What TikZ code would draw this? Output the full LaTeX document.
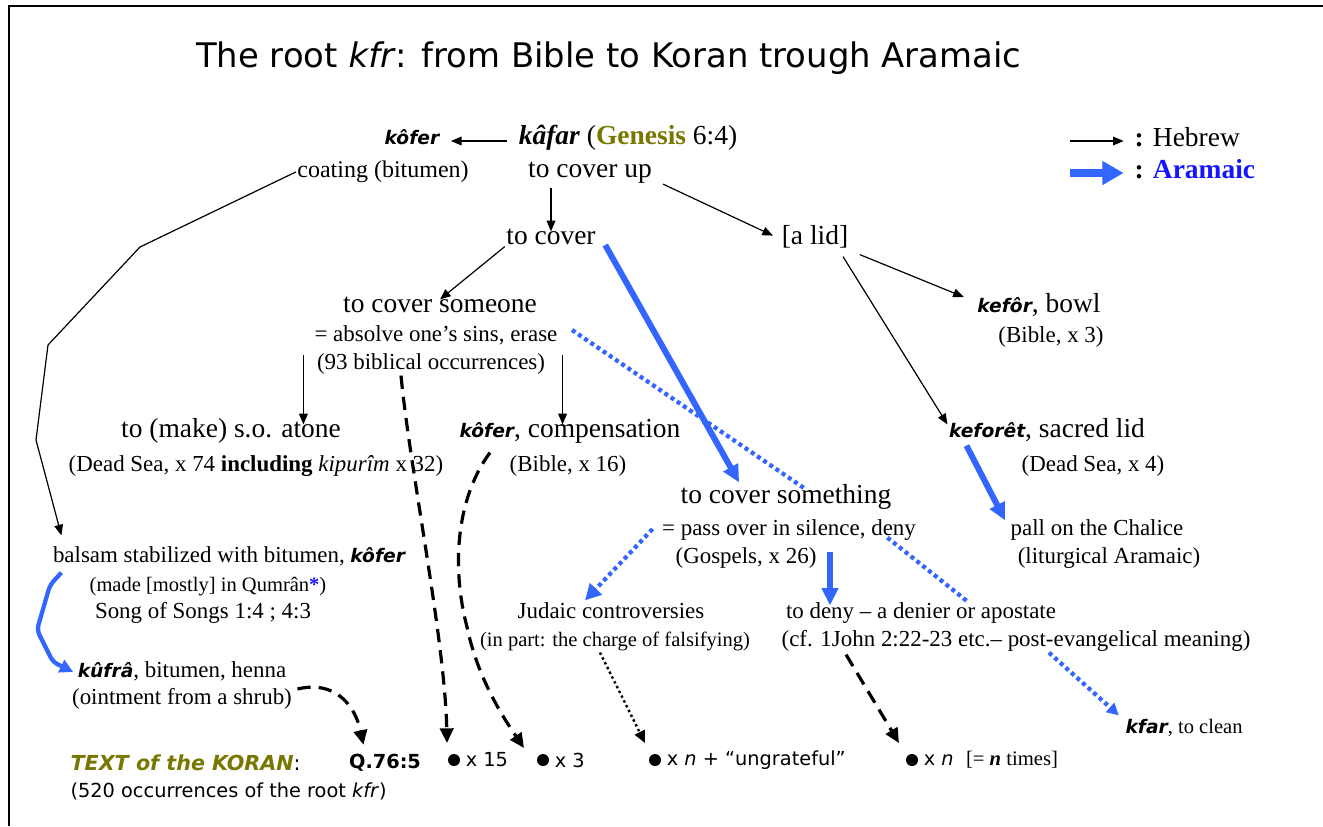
\documentclass[tikz,border=0pt]{standalone}
\usepackage{fontspec}
\setmainfont{Liberation Serif}
\newfontfamily\verd{DejaVu Sans}[ItalicFont={DejaVu Sans Oblique},BoldFont={DejaVu Sans Bold},BoldItalicFont={DejaVu Sans Bold Oblique}]
\usetikzlibrary{arrows.meta,positioning,calc}

\definecolor{aramblue}{RGB}{51,102,255}
\definecolor{txtblue}{RGB}{20,20,255}
\definecolor{genolive}{RGB}{120,120,0}

\newcommand\bigsz{\fontsize{20.6pt}{24pt}\selectfont}
\newcommand\midsz{\fontsize{17.2pt}{20pt}\selectfont}
\newcommand\smsz{\fontsize{15.4pt}{18pt}\selectfont}
\newcommand\vsz{\fontsize{14.5pt}{17pt}\selectfont}
\newcommand\kw[1]{{\verd\bfseries\itshape\fontsize{14pt}{17pt}\selectfont #1}}

\tikzset{
  lbl/.style={inner sep=1pt, text height=0.84em, text depth=0.06em, font=\bigsz},
  sublbl/.style={lbl, font=\midsz},
  notelbl/.style={lbl, font=\smsz},
  botlbl/.style={inner sep=1pt, font=\verd\vsz},
  heb/.style={-{Triangle[length=8pt,width=6.5pt]}, line width=0.9pt},
  aram/.style={-{Triangle[length=13pt,width=12pt]}, line width=4.5pt, aramblue},
  aramdot/.style={line width=3.2pt, aramblue, dash pattern=on 3pt off 2.6pt},
  quran/.style={-{Triangle[length=11pt,width=10pt]}, line width=2.4pt, dash pattern=on 10pt off 6pt},
  qdot/.style={-{Triangle[length=9pt,width=8pt]}, line width=1.8pt, dash pattern=on 1.8pt off 2.2pt},
  kdot/.style={circle, fill, inner sep=0pt, minimum size=9pt},
}

\begin{document}
\begin{tikzpicture}[x=0.75pt,y=0.75pt,yscale=-1,xscale=1]
\useasboundingbox (0,0) rectangle (1323,826);
% frame
\draw[line width=2.2pt] (9,826) -- (9,6) -- (1323,6);

% Title
\node[anchor=west, inner sep=0pt, font=\verd\fontsize{25.4pt}{30pt}\selectfont] (title) at (196,58) {The root \textit{kfr}: from Bible to Koran trough Aramaic};

% Legend
\node[lbl, anchor=west] (lgheb) at (1133,141) {\textbf{:} Hebrew};
\node[lbl, anchor=west] (lgaram) at (1133,173) {\textbf{: \textcolor{txtblue}{Aramaic}}};
\coordinate (lhs) at (1070,141);
\coordinate (las) at (1070,173);
\draw[heb, shorten >=7pt] (lhs) -- (lgheb.west);
\draw[aram, line width=6pt, -{Triangle[length=16pt,width=17pt]}, shorten >=7pt] (las) -- (lgaram.west);

% Text Nodes
\node[lbl] (kafar) at (628,139) {\textbf{\textit{kâfar}} (\textcolor{genolive}{\textbf{Genesis}} 6:4)};
\node[lbl] (kofer1) at (412,139) {\kw{kôfer}};
\node[lbl] (coverup) at (590,172) {to cover up};
\node[lbl, font=\fontsize{18pt}{21pt}\selectfont] (coating) at (383,172) {coating (bitumen)};
\node[lbl] (cover) at (551,239) {to cover};
\node[lbl] (lid) at (815,239) {[a lid]};
\node[lbl] (someone) at (440,307) {to cover someone};
\node[sublbl] (absolve) at (436,336) {= absolve one’s sins, erase};
\node[sublbl] (occ93) at (431,364) {(93 biblical occurrences)};
\node[lbl] (atone) at (231,432) {to (make) s.o. atone};
\node[sublbl] (ds74) at (256,466) {(Dead Sea, x 74 \textbf{including} \textit{kipurîm} x 32)};
\node[lbl] (kofer2) at (570,432) {\kw{kôfer}, compensation};
\node[sublbl] (bible16) at (568,466) {(Bible, x 16)};
\node[lbl] (kefor) at (1039,307) {\kw{kefôr}, bowl};
\node[sublbl] (bible3) at (1051,337) {(Bible, x 3)};
\node[lbl] (keforet) at (1047,432) {\kw{keforêt}, sacred lid};
\node[sublbl] (ds4) at (1093,466) {(Dead Sea, x 4)};
\node[lbl] (something) at (786,498) {to cover something};
\node[sublbl] (passover) at (789,530) {= pass over in silence, deny};
\node[sublbl] (gospels) at (746,558) {(Gospels, x 26)};
\node[sublbl] (pall) at (1097,530) {pall on the Chalice};
\node[sublbl] (liturg) at (1109,558) {(liturgical Aramaic)};
\node[sublbl] (balsam) at (229,557) {balsam stabilized with bitumen, \kw{kôfer}};
\node[notelbl] (qumran) at (208,586) {(made [mostly] in Qumrân\textcolor{txtblue}{\textbf{*}})};
\node[sublbl] (song) at (203,613) {Song of Songs 1:4 ; 4:3};
\node[sublbl] (judaic) at (611,613) {Judaic controversies};
\node[notelbl] (inpart) at (615,641) {(in part: the charge of falsifying)};
\node[sublbl] (deny) at (921,613) {to deny – a denier or apostate};
\node[sublbl] (cf) at (1016,641) {(cf. 1John 2:22-23 etc.– post-evangelical meaning)};
\node[sublbl] (kufra) at (182,672) {\kw{kûfrâ}, bitumen, henna};
\node[sublbl] (ointment) at (182,699) {(ointment from a shrub)};
\node[notelbl] (kfar) at (1184,728) {\kw{kfar}, to clean};

% Koran row
\node[botlbl, anchor=west, font=\verd\fontsize{15.5pt}{18pt}\selectfont] (koran) at (69,763) {\textcolor{genolive}{\textbf{\textit{TEXT of the KORAN}}}:};
\node[botlbl, font=\verd\bfseries\vsz] (q765) at (385,763) {Q.76:5};
\node[kdot] (d15) at (454,760) {};
\node[botlbl, right=3pt of d15] (t15) {x 15};
\node[kdot] (d3) at (543,760) {};
\node[botlbl, right=3pt of d3] (t3) {x 3};
\node[kdot] (dn1) at (655,760) {};
\node[botlbl, right=3pt of dn1] (tn1) {x \textit{n} + “ungrateful”};
\node[kdot] (dn2) at (912,760) {};
\node[botlbl, right=3pt of dn2] (tn2) {x \textit{n}\ \ {\rmfamily\fontsize{15.5pt}{18pt}\selectfont [= \textbf{\textit{n}} times]}};
\node[botlbl, anchor=west] (occ520) at (69,791) {(520 occurrences of the root \textit{kfr})};

% Hebrew links
\draw[heb] ($(kafar.west)+(-10,2)$) -- ($(kofer1.east)+(10,2)$);
\draw[heb, shorten <=6pt] (coverup.south -| cover.north) -- (cover.north);
\draw[heb, shorten <=8pt, shorten >=6pt] (coverup.south east) -- (lid.west);
\draw[heb] (cover.south west) -- (someone.north);
\draw[heb] ($(lid.south east)+(10,8)$) -- ($(kefor.west)+(-12,-10)$);
\draw[heb] ($(lid.south)+(28,10)$) -- (keforet.north west);
\coordinate (a1) at ($(occ93.west)+(-12,-9)$);
\coordinate (a2) at ($(occ93.east)+(16,-9)$);
\draw[heb] (a1) -- (a1 |- atone.north);
\draw[heb] (a2) -- (a2 |- kofer2.north);
\draw[heb] (coating.west) -- (140,247) -- (48,345) -- (36,440) -- ($(balsam.north west)+(10,-14)$);

% Aramaic links
\draw[aram] ($(cover.east)+(8,6)$) -- ($(something.north west)+(60,-8)$);
\draw[aram] ($(keforet.south west)+(19,6)$) -- ($(pall.north west)+(-4,-2)$);
\coordinate (a3) at ($(gospels.east)+(12,-6)$);
\draw[aram] (a3) -- (a3 |- deny.north);
\draw[aramdot] ($(absolve.east)+(13,-6)$) -- ($(something.north)+(20,-1)$);
\draw[aramdot] ($(passover.south east)+(-30,0)$) -- ($(deny.north east)+(-89,-3)$);
\draw[aramdot, -{Triangle[length=12pt,width=12pt]}] ($(passover.west)+(-8,-1)$) -- ($(judaic.north)+(-26,-5)$);
\draw[aramdot, -{Triangle[length=9pt,width=9pt]}] ($(cf.south)+(33,4)$) -- ($(kfar.north west)+(-5,-5)$);
\draw[aram, line width=3.2pt, -{Triangle[length=10pt,width=10pt]}, rounded corners=4pt] ($(balsam.south west)+(10,8)$) -- (50,585) -- (37,630) -- (53,662) -- ($(kufra.west)+(-3,0)$);

% to the Koran
\draw[quran] ($(occ93.south)+(-30,4)$) .. controls (410,470) and (445,640) .. ($(d15)+(-7,-17)$);
\draw[quran] ($(kofer2.south west)+(32,13)$) .. controls (455,500) and (452,570) .. (467,627) .. controls (478,680) and (505,720) .. ($(d3)+(-19,-12)$);
\draw[quran] ($(ointment.east)+(4,-10)$) .. controls (335,680) and (355,705) .. ($(q765.north west)+(16,-8)$);
\draw[quran] ($(cf.south west)+(66,6)$) -- ($(dn2)+(-13,-17)$);
\draw[qdot] ($(inpart.south)+(-15,4)$) -- ($(dn1)+(-10,-17)$);

\end{tikzpicture}
\end{document}
